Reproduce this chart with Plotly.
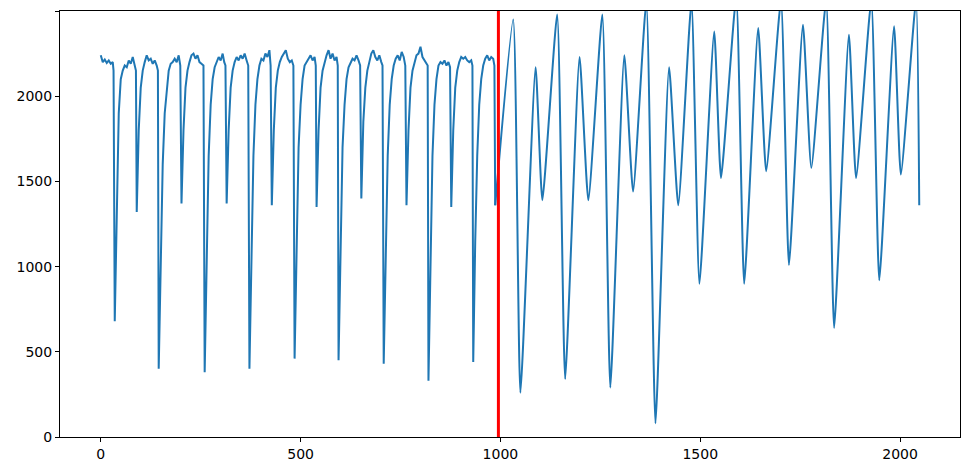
import plotly.graph_objects as go

# segment 1: noisy plateau with periodic dips (x, y anchor readings)
x1 = [0,5,10,15,20,25,30,32,35,40,45,50,55,60,65,70,75,80,85,88,90,95,100,105,110,115,120,125,130,135,140,143,
      145,150,155,160,165,170,175,180,185,190,195,199,202,207,212,217,222,227,232,237,242,247,252,257,
      260,265,270,275,280,285,290,295,300,305,309,312,315,320,325,330,335,340,345,350,355,360,365,369,
      372,377,382,387,392,397,402,407,412,417,422,425,428,433,438,443,448,453,458,463,468,473,478,482,
      485,490,495,500,505,510,515,520,525,530,535,538,540,545,550,555,560,565,570,575,580,585,590,593,
      595,600,605,610,615,620,625,630,635,640,645,649,652,657,662,667,672,677,682,687,692,697,702,705,
      708,713,718,723,728,733,738,743,748,753,758,762,765,770,775,780,785,790,795,800,805,810,815,818,
      820,825,830,835,840,845,850,855,860,865,870,874,877,882,887,892,897,902,907,912,917,922,927,930,
      932,937,942,947,952,957,962,967,972,977,982,985,987]
y1 = [2240,2200,2215,2195,2210,2190,2200,2150,680,1400,1900,2100,2150,2180,2170,2210,2190,2230,2180,2150,1320,1800,2050,2150,2200,2240,2210,2220,2190,2210,2180,2150,
      400,1100,1600,1900,2050,2150,2190,2200,2220,2200,2240,2180,1370,1800,2050,2150,2200,2240,2250,2220,2240,2200,2190,2180,
      380,1150,1650,1950,2100,2170,2200,2230,2210,2250,2200,2180,1370,1800,2050,2150,2200,2230,2210,2240,2220,2250,2210,2180,
      400,1150,1650,1950,2100,2180,2220,2210,2250,2230,2270,2180,1360,1800,2050,2150,2200,2230,2250,2270,2220,2200,2210,2180,
      460,1200,1700,1950,2100,2180,2200,2220,2240,2210,2230,2180,1350,1800,2050,2150,2200,2240,2270,2220,2250,2210,2230,2180,
      450,1200,1700,1950,2100,2170,2200,2220,2210,2240,2210,2180,1400,1850,2050,2150,2200,2250,2270,2230,2210,2240,2200,2180,
      430,1150,1650,1950,2100,2180,2220,2240,2210,2260,2230,2180,1360,1800,2050,2150,2200,2240,2250,2290,2230,2210,2190,2180,
      330,1100,1650,1950,2100,2180,2200,2190,2210,2180,2200,2170,1350,1800,2050,2150,2200,2230,2220,2230,2210,2200,2210,2180,
      440,1150,1650,1950,2100,2180,2220,2240,2210,2230,2220,2180,1360]

# segment 2: smooth large oscillation, peaks and troughs
x2 = [987,1032,1050,1088,1105,1142,1162,1198,1220,1255,1275,1310,1332,1365,1388,1422,1445,1478,1498,
      1535,1552,1590,1610,1645,1665,1702,1722,1757,1778,1815,1835,1872,1890,1928,1948,1985,2002,2040,2048]
y2 = [1360,2450,260,2170,1390,2480,340,2230,1390,2480,290,2240,1440,2550,80,2170,1360,2550,900,
      2380,1520,2580,900,2400,1560,2560,1010,2420,1580,2560,640,2360,1520,2560,920,2410,1540,2560,1360]

split_x = 995
blue = "#1f77b4"

fig = go.Figure()
fig.add_trace(go.Scatter(x=x1, y=y1, mode="lines", line=dict(color=blue, width=2), showlegend=False))
fig.add_trace(go.Scatter(x=x2, y=y2, mode="lines", line=dict(color=blue, width=2, shape="spline", smoothing=0.5), showlegend=False))
fig.add_shape(type="line", x0=split_x, x1=split_x, y0=0, y1=1, yref="paper", line=dict(color="red", width=3))

ax = dict(showgrid=False, zeroline=False, showline=True, linecolor="black", linewidth=1, mirror=True,
          automargin=False, ticks="outside", ticklen=4, tickcolor="black",
          tickfont=dict(family="DejaVu Sans", size=14, color="black"))
fig.update_layout(width=974, height=471, plot_bgcolor="white", paper_bgcolor="white",
                  margin=dict(l=52, r=22, t=3, b=42),
                  xaxis=dict(range=[-102, 2150], tickvals=[0, 500, 1000, 1500, 2000], **ax),
                  yaxis=dict(range=[0, 2500], tickvals=[0, 500, 1000, 1500, 2000, 2500], **ax))
fig.write_html("out.html")
